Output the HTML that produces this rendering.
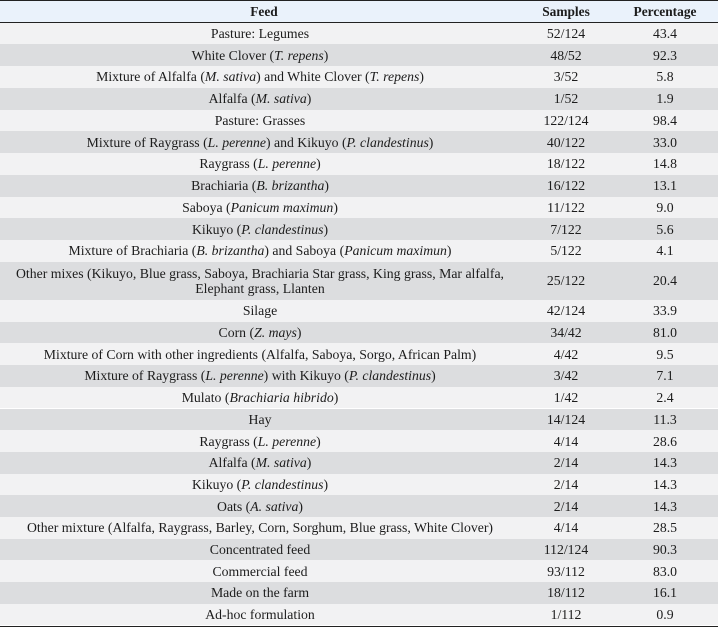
<!DOCTYPE html>
<html><head><meta charset="utf-8">
<style>
html,body{margin:0;padding:0;}
body{width:718px;height:627px;position:relative;overflow:hidden;background:#fff;font-family:"Liberation Serif","Times New Roman",serif;font-size:13.75px;color:#1c1c1c;}
.r{position:absolute;left:0;width:718px;}
.c{position:absolute;top:0;height:100%;display:flex;align-items:center;justify-content:center;text-align:center;white-space:nowrap;line-height:15px;}
.f{left:0;width:520px;}
.fh{left:0;width:528px;}
.s{left:516px;width:100px;}
.p{left:615px;width:100px;}
.L{background:#f2f2f3;}
.D{background:#dcdddf;}
.h{font-weight:bold;font-size:13.4px;}
</style></head><body>
<div class="r" style="top:0;height:1px;background:#222;"></div>
<div class="r h" style="top:1px;height:20.5px;background:#eaf2fb;">
<div class="c fh">Feed</div><div class="c s">Samples</div><div class="c p">Percentage</div></div>
<div class="r" style="top:21.5px;height:1.3px;background:#222;"></div>

<div class="r L" style="top:22.75px;height:21.5px;"><div class="c f">Pasture: Legumes</div><div class="c s">52/124</div><div class="c p">43.4</div></div>
<div class="r D" style="top:44.25px;height:21.75px;"><div class="c f"><span>White Clover (<i>T. repens</i>)</span></div><div class="c s">48/52</div><div class="c p">92.3</div></div>
<div class="r L" style="top:66px;height:21.75px;"><div class="c f"><span>Mixture of Alfalfa (<i>M. sativa</i>) and White Clover (<i>T. repens</i>)</span></div><div class="c s">3/52</div><div class="c p">5.8</div></div>
<div class="r D" style="top:87.75px;height:21.75px;"><div class="c f"><span>Alfalfa (<i>M. sativa</i>)</span></div><div class="c s">1/52</div><div class="c p">1.9</div></div>
<div class="r L" style="top:109.5px;height:21.75px;"><div class="c f">Pasture: Grasses</div><div class="c s">122/124</div><div class="c p">98.4</div></div>
<div class="r D" style="top:131.25px;height:21.75px;"><div class="c f"><span>Mixture of Raygrass (<i>L. perenne</i>) and Kikuyo (<i>P. clandestinus</i>)</span></div><div class="c s">40/122</div><div class="c p">33.0</div></div>
<div class="r L" style="top:153px;height:21.75px;"><div class="c f"><span>Raygrass (<i>L. perenne</i>)</span></div><div class="c s">18/122</div><div class="c p">14.8</div></div>
<div class="r D" style="top:174.75px;height:21.75px;"><div class="c f"><span>Brachiaria (<i>B. brizantha</i>)</span></div><div class="c s">16/122</div><div class="c p">13.1</div></div>
<div class="r L" style="top:196.5px;height:21.75px;"><div class="c f"><span>Saboya (<i>Panicum maximun</i>)</span></div><div class="c s">11/122</div><div class="c p">9.0</div></div>
<div class="r D" style="top:218.25px;height:21.75px;"><div class="c f"><span>Kikuyo (<i>P. clandestinus</i>)</span></div><div class="c s">7/122</div><div class="c p">5.6</div></div>
<div class="r L" style="top:240px;height:21.75px;"><div class="c f"><span>Mixture of Brachiaria (<i>B. brizantha</i>) and Saboya (<i>Panicum maximun</i>)</span></div><div class="c s">5/122</div><div class="c p">4.1</div></div>
<div class="r D" style="top:261.75px;height:38.25px;"><div class="c f"><span>Other mixes (Kikuyo, Blue grass, Saboya, Brachiaria Star grass, King grass, Mar alfalfa,<br>Elephant grass, Llanten</span></div><div class="c s">25/122</div><div class="c p">20.4</div></div>
<div class="r L" style="top:300px;height:21.7px;"><div class="c f">Silage</div><div class="c s">42/124</div><div class="c p">33.9</div></div>
<div class="r D" style="top:321.7px;height:21.7px;"><div class="c f"><span>Corn (<i>Z. mays</i>)</span></div><div class="c s">34/42</div><div class="c p">81.0</div></div>
<div class="r L" style="top:343.4px;height:21.7px;"><div class="c f">Mixture of Corn with other ingredients (Alfalfa, Saboya, Sorgo, African Palm)</div><div class="c s">4/42</div><div class="c p">9.5</div></div>
<div class="r D" style="top:365.1px;height:21.7px;"><div class="c f"><span>Mixture of Raygrass (<i>L. perenne</i>) with Kikuyo (<i>P. clandestinus</i>)</span></div><div class="c s">3/42</div><div class="c p">7.1</div></div>
<div class="r L" style="top:386.8px;height:21.7px;"><div class="c f"><span>Mulato (<i>Brachiaria hibrido</i>)</span></div><div class="c s">1/42</div><div class="c p">2.4</div></div>
<div class="r D" style="top:408.5px;height:21.7px;"><div class="c f">Hay</div><div class="c s">14/124</div><div class="c p">11.3</div></div>
<div class="r L" style="top:430.2px;height:21.7px;"><div class="c f"><span>Raygrass (<i>L. perenne</i>)</span></div><div class="c s">4/14</div><div class="c p">28.6</div></div>
<div class="r D" style="top:451.9px;height:21.7px;"><div class="c f"><span>Alfalfa (<i>M. sativa</i>)</span></div><div class="c s">2/14</div><div class="c p">14.3</div></div>
<div class="r L" style="top:473.6px;height:21.7px;"><div class="c f"><span>Kikuyo (<i>P. clandestinus</i>)</span></div><div class="c s">2/14</div><div class="c p">14.3</div></div>
<div class="r D" style="top:495.3px;height:21.7px;"><div class="c f"><span>Oats (<i>A. sativa</i>)</span></div><div class="c s">2/14</div><div class="c p">14.3</div></div>
<div class="r L" style="top:517px;height:21.7px;"><div class="c f">Other mixture (Alfalfa, Raygrass, Barley, Corn, Sorghum, Blue grass, White Clover)</div><div class="c s">4/14</div><div class="c p">28.5</div></div>
<div class="r D" style="top:538.7px;height:21.7px;"><div class="c f">Concentrated feed</div><div class="c s">112/124</div><div class="c p">90.3</div></div>
<div class="r L" style="top:560.4px;height:21.7px;"><div class="c f">Commercial feed</div><div class="c s">93/112</div><div class="c p">83.0</div></div>
<div class="r D" style="top:582.1px;height:21.7px;"><div class="c f">Made on the farm</div><div class="c s">18/112</div><div class="c p">16.1</div></div>
<div class="r L" style="top:603.8px;height:21.7px;"><div class="c f">Ad-hoc formulation</div><div class="c s">1/112</div><div class="c p">0.9</div></div>
<div class="r" style="top:625.5px;height:1.5px;background:#222;"></div>
</body></html>
